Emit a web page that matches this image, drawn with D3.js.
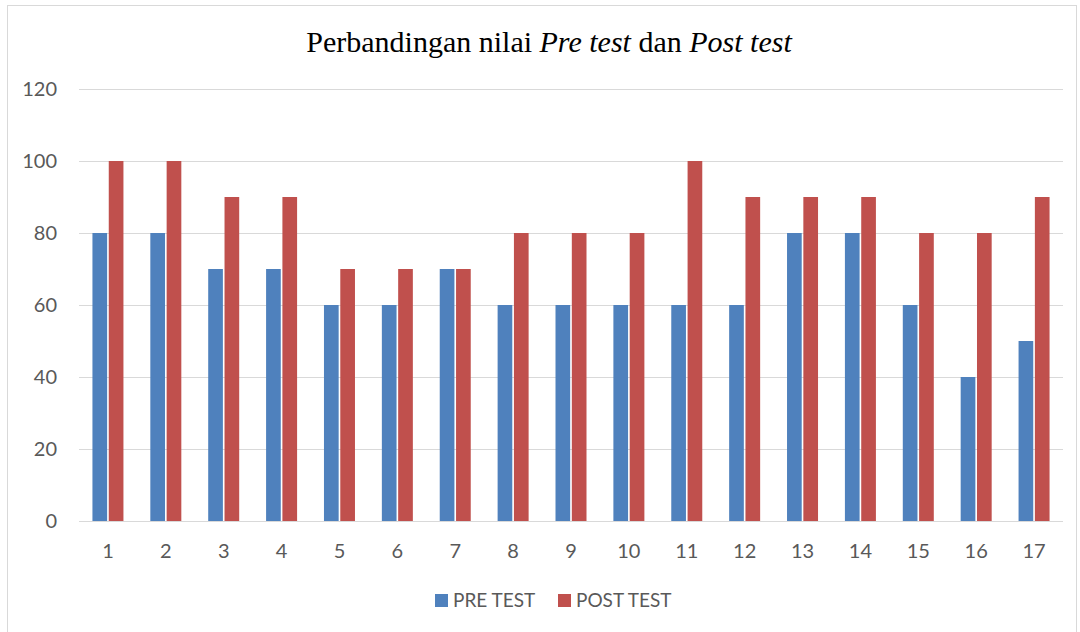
<!DOCTYPE html>
<html>
<head>
<meta charset="utf-8">
<script src="https://cdn.jsdelivr.net/npm/d3@7"></script>
<style>
  body { margin: 0; background: #fff; }
  svg { display: block; }
</style>
</head>
<body>
<div id="chart"></div>
<script>
// data
var students = ["1","2","3","4","5","6","7","8","9","10","11","12","13","14","15","16","17"];
var preTest  = [80,80,70,70,60,60,70,60,60,60,60,60,80,80,60,40,50];
var postTest = [100,100,90,90,70,70,70,80,80,80,100,90,90,90,80,80,90];
var seriesNames = ["PRE TEST", "POST TEST"];
var yTicks = [0,20,40,60,80,100,120];

var W = 1080, H = 632;
var colors = { "PRE TEST": "#4F81BD", "POST TEST": "#C0504D" };
var labelFont = "Lato, 'Open Sans', sans-serif";

var svg = d3.select("#chart").append("svg")
    .attr("width", W)
    .attr("height", H);

// outer chart border
svg.append("rect")
    .attr("x", 7.5).attr("y", 5.5)
    .attr("width", W - 11).attr("height", H + 10)
    .attr("fill", "#fff")
    .attr("stroke", "#d9d9d9");

var plotLeft = 79, plotRight = 1063, plotTop = 89, plotBottom = 521;

var x = d3.scaleBand().domain(students).range([plotLeft, plotRight]).padding(0);
var y = d3.scaleLinear().domain([0, 120]).range([plotBottom, plotTop]);

var bw = x.bandwidth();
var x1 = d3.scaleBand().domain(seriesNames)
    .range([bw / 2 - 15.5, bw / 2 + 15.5])
    .paddingInner(0.1);

// gridlines
svg.append("g")
    .selectAll("line")
    .data(yTicks)
    .enter()
    .append("line")
    .attr("x1", plotLeft).attr("x2", plotRight)
    .attr("y1", function (d) { return Math.round(y(d)) + 0.5; })
    .attr("y2", function (d) { return Math.round(y(d)) + 0.5; })
    .attr("stroke", "#d9d9d9")
    .attr("stroke-width", 1);

// y labels
svg.append("g")
    .selectAll("text")
    .data(yTicks)
    .enter()
    .append("text")
    .attr("x", 57)
    .attr("y", function (d) { return y(d); })
    .attr("dy", "0.35em")
    .attr("text-anchor", "end")
    .style("font-family", labelFont)
    .style("font-size", "20px")
    .style("fill", "#595959")
    .text(function (d) { return d; });

// bars
var rows = students.map(function (s, i) {
    return { cat: s, values: [
        { name: "PRE TEST", v: preTest[i] },
        { name: "POST TEST", v: postTest[i] }
    ] };
});

var groups = svg.append("g")
    .selectAll("g")
    .data(rows)
    .enter()
    .append("g")
    .attr("transform", function (d) { return "translate(" + x(d.cat) + ",0)"; });

groups.selectAll("rect")
    .data(function (d) { return d.values; })
    .enter()
    .append("rect")
    .attr("x", function (d) { return x1(d.name); })
    .attr("width", x1.bandwidth())
    .attr("y", function (d) { return y(d.v); })
    .attr("height", function (d) { return y(0) - y(d.v); })
    .attr("fill", function (d) { return colors[d.name]; });

// baseline
svg.append("line")
    .attr("x1", plotLeft).attr("x2", plotRight)
    .attr("y1", Math.round(y(0)) + 0.5).attr("y2", Math.round(y(0)) + 0.5)
    .attr("stroke", "#d9d9d9");

// x labels
svg.append("g")
    .selectAll("text")
    .data(students)
    .enter()
    .append("text")
    .attr("x", function (d) { return x(d) + bw / 2; })
    .attr("y", 558)
    .attr("text-anchor", "middle")
    .style("font-family", labelFont)
    .style("font-size", "20px")
    .style("fill", "#595959")
    .text(function (d) { return d; });

// title with italic parts
var title = svg.append("text")
    .attr("x", 549)
    .attr("y", 52)
    .attr("text-anchor", "middle")
    .style("font-family", "'Times New Roman', 'Liberation Serif', serif")
    .style("font-size", "30px")
    .style("fill", "#000");
title.append("tspan").text("Perbandingan nilai ");
title.append("tspan").style("font-style", "italic").text("Pre test");
title.append("tspan").text(" dan ");
title.append("tspan").style("font-style", "italic").text("Post test");

// legend
var legendX = [435, 558];
var legend = svg.append("g")
    .selectAll("g")
    .data(seriesNames)
    .enter()
    .append("g")
    .attr("transform", function (d, i) { return "translate(" + legendX[i] + ",594)"; });

legend.append("rect")
    .attr("width", 13).attr("height", 13)
    .attr("fill", function (d) { return colors[d]; });

legend.append("text")
    .attr("x", 18)
    .attr("y", 6.5)
    .attr("dy", "0.35em")
    .style("font-family", labelFont)
    .style("font-size", "19px")
    .style("fill", "#595959")
    .text(function (d) { return d; });
</script>
</body>
</html>
